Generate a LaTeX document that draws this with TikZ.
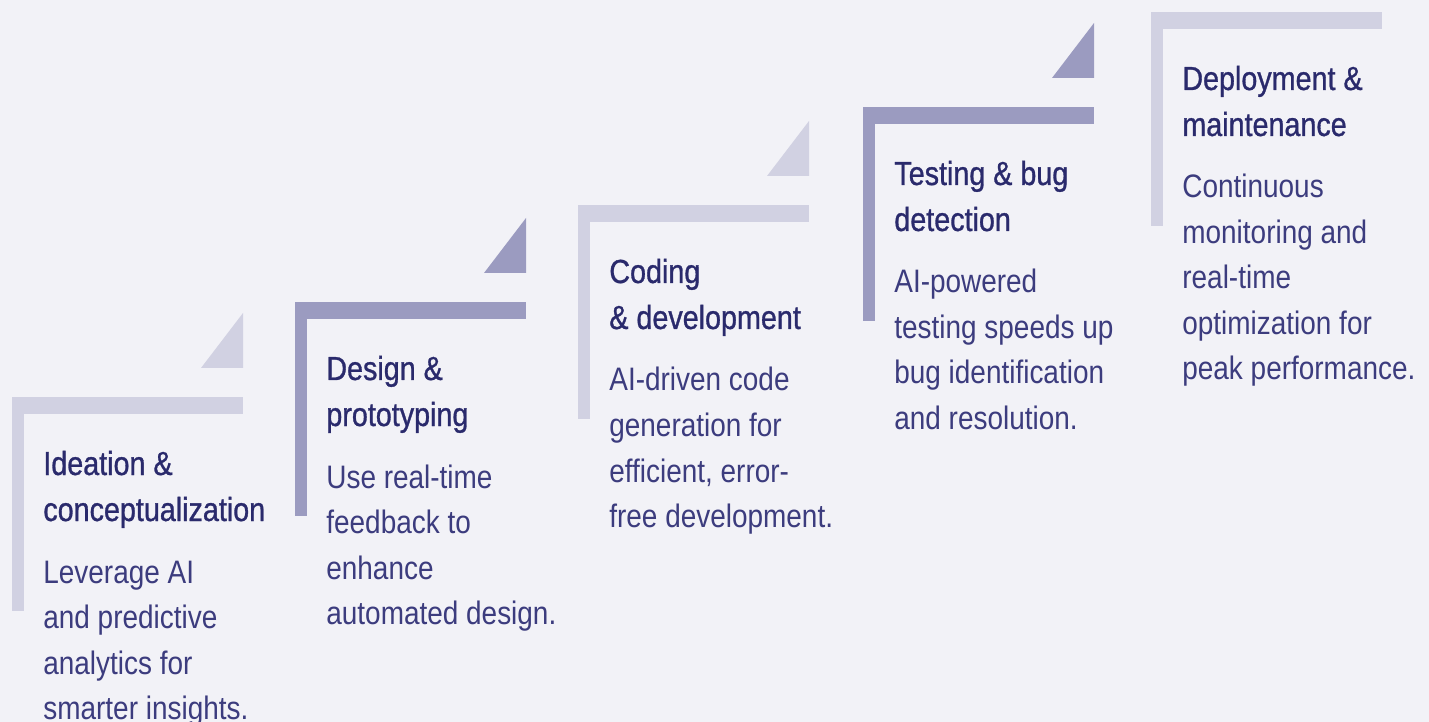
\documentclass[tikz,border=0pt]{standalone}
\usepackage{fontspec}
\setmainfont{Liberation Sans}
\newfontfamily\titlefont[FakeStretch=0.86,FakeBold=0.9]{Liberation Sans}
\newfontfamily\bodyfont[FakeStretch=0.86]{Liberation Sans}
\definecolor{bg}{RGB}{242,242,247}
\definecolor{barlight}{RGB}{209,209,226}
\definecolor{bardark}{RGB}{155,155,192}
\definecolor{titlecol}{RGB}{42,42,108}
\definecolor{bodycol}{RGB}{60,60,126}
\tikzset{
  titletext/.style={anchor=base west, inner sep=0pt, text=titlecol,
    font=\titlefont\fontsize{19pt}{19pt}\selectfont},
  bodytext/.style={anchor=base west, inner sep=0pt, text=bodycol,
    font=\bodyfont\fontsize{18.5pt}{18.5pt}\selectfont},
}
% #1 name, #2 x, #3 y, #4 colour, #5 title lines, #6 body lines, #7 triangle (1/0)
\newcommand\drawstage[7]{%
  \fill[#4] (#2,#3) rectangle ++(231,17);
  \fill[#4] (#2,#3) rectangle ++(12,214);
  \ifnum#7=1
    \fill[#4] (#2+231,#3-29) -- ++(-42,0) -- ++(42,-55) -- cycle;
  \fi
  \foreach \t [count=\k] in {#5}
    \node[titletext] (#1-t\k) at ({#2+31},{#3+78+46*(\k-1)}) {\t};
  \foreach \t [count=\k] in {#6}
    \node[bodytext] (#1-b\k) at ({#2+31},{#3+186+45.5*(\k-1)}) {\t};
}
\begin{document}
\begin{tikzpicture}[x=0.02cm,y=-0.02cm]
  \fill[bg] (0,0) rectangle (1429,722);
  \useasboundingbox (0,0) rectangle (1429,722);
  \drawstage{s1}{12}{397}{barlight}{Ideation \&,conceptualization}{Leverage AI,and predictive,analytics for,smarter insights.}{1}
  \drawstage{s2}{295}{302}{bardark}{Design \&,prototyping}{Use real-time,feedback to,enhance,automated design.}{1}
  \drawstage{s3}{578}{205}{barlight}{Coding,\& development}{AI-driven code,generation for,{efficient, error-},free development.}{1}
  \drawstage{s4}{863}{107}{bardark}{Testing \& bug,detection}{AI-powered,testing speeds up,bug identification,and resolution.}{1}
  \drawstage{s5}{1151}{12}{barlight}{Deployment \&,maintenance}{Continuous,monitoring and,real-time,optimization for,peak performance.}{0}
\end{tikzpicture}
\end{document}
